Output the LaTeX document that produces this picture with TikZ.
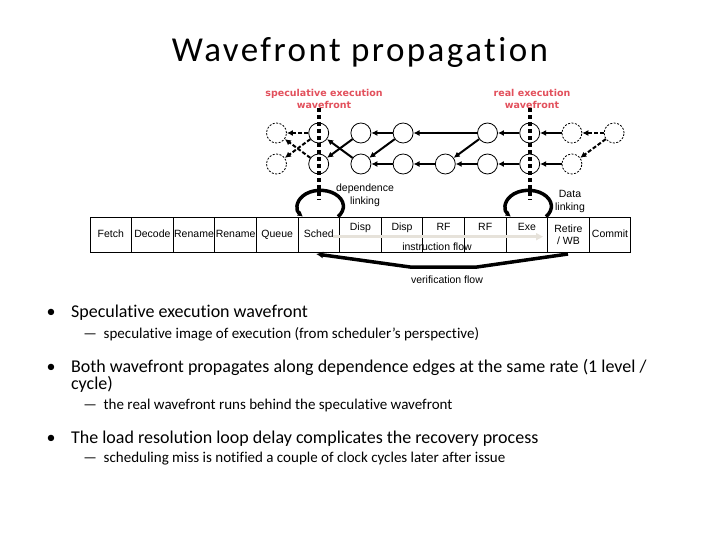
\documentclass[tikz,border=0pt]{standalone}
\usepackage{fontspec}
\setmainfont{Carlito}[Ligatures=NoCommon]
\newfontfamily\titlefont{Carlito}[LetterSpace=7,Ligatures=NoCommon]
\newfontfamily\diagfont{Liberation Sans}
\newfontfamily\wavefont{DejaVu Sans}
\usetikzlibrary{arrows.meta}

\definecolor{wavered}{RGB}{226,80,92}
\definecolor{flowgray}{RGB}{230,226,218}

\tikzset{
    inst/.style={circle,draw,minimum size=20pt,inner sep=0pt,line width=0.8pt},
    ghost/.style={inst,dash pattern=on 2pt off 1.5pt},
    dep/.style={line width=2pt,-{Latex[length=6pt,width=6pt]}},
    stage/.style={draw,line width=0.8pt,minimum width=41.6pt,minimum height=35pt,inner sep=0pt,
        font=\diagfont\fontsize{10.5}{12}\selectfont,text height=7.5pt,text depth=2pt},
    upstage/.style={stage,text depth=15pt},
    wave/.style={line width=4pt,dash pattern=on 4pt off 3pt},
    linking/.style={line width=3.5pt,-{Latex[length=5pt,width=6pt]}},
    small/.style={font=\diagfont\fontsize{10.5}{13.4}\selectfont,align=center,inner sep=0pt},
    wavelabel/.style={font=\wavefont\bfseries\fontsize{9.5}{12.3}\selectfont,text=wavered,align=center,inner sep=0pt},
    item/.style={font=\fontsize{18}{21}\selectfont,anchor=base west,inner sep=0pt},
    subitem/.style={font=\fontsize{15}{17}\selectfont,anchor=base west,inner sep=0pt}
}

\begin{document}
\begin{tikzpicture}[x=1pt,y=-1pt,thick]
    \useasboundingbox (0,0) rectangle (720,540);
    %
    \node[font=\titlefont\fontsize{35}{42}\selectfont,anchor=base] (title) at (360,61.7) {Wavefront propagation};
    %
    \node[wavelabel] (speclab) at (324,99) {speculative execution\\wavefront};
    \node[wavelabel] (reallab) at (532,99) {real execution\\wavefront};
    %
    \node[ghost] (T0) at (276.5,133) {};
    \node[inst]  (T1) at (318.7,133) {};
    \node[inst]  (T2) at (360.9,133) {};
    \node[inst]  (T3) at (403.1,133) {};
    \node[inst]  (T5) at (487.5,133) {};
    \node[inst]  (T6) at (529.7,133) {};
    \node[ghost] (T7) at (571.9,133) {};
    \node[ghost] (T8) at (614.1,133) {};
    \node[ghost] (B0) at (276.5,164) {};
    \node[inst]  (B1) at (318.7,164) {};
    \node[inst]  (B2) at (360.9,164) {};
    \node[inst]  (B3) at (403.1,164) {};
    \node[inst]  (B4) at (445.3,164) {};
    \node[inst]  (B5) at (487.5,164) {};
    \node[inst]  (B6) at (529.7,164) {};
    \node[ghost] (B7) at (571.9,164) {};
    %
    \begin{scope}[dep,dash pattern=on 4pt off 2pt]
        \draw (T1) -- (T0);
        \draw (T1) -- (B0);
        \draw (B1) -- (T0);
        \draw (T8) -- (T7);
        \draw (T8) -- (B7);
    \end{scope}
    %
    \draw[dep] (T2) -- (B1);
    \draw[dep] (B2) -- (T1);
    \draw[dep] (T3) -- (T2);
    \draw[dep] (T3) -- (B2);
    \draw[dep] (T5) -- (T3);
    \draw[dep] (B3) -- (B2);
    \draw[dep] (B4) -- (B3);
    \draw[dep] (T5) -- (B4);
    \draw[dep] (B5) -- (B4);
    \draw[dep] (T6) -- (T5);
    \draw[dep] (B6) -- (B5);
    \draw[dep] (T7) -- (T6);
    \draw[dep] (B7) -- (B6);
    %
    \coordinate (W1a) at (318.7,108);
    \coordinate (W1b) at (318.7,200);
    \coordinate (W2a) at (529.7,108);
    \coordinate (W2b) at (529.7,200);
    \draw[wave] (W1a) -- (W1b);
    \draw[wave] (W2a) -- (W2b);
    %
    \node[stage]   (P1)  at (110.8,234.5) {Fetch};
    \node[stage]   (P2)  at (152.4,234.5) {Decode};
    \node[stage]   (P3)  at (194.0,234.5) {Rename};
    \node[stage]   (P4)  at (235.6,234.5) {Rename};
    \node[stage]   (P5)  at (277.2,234.5) {Queue};
    \node[stage]   (P6)  at (318.8,234.5) {Sched};
    \node[upstage] (P7)  at (360.4,234.5) {Disp};
    \node[upstage] (P8)  at (402.0,234.5) {Disp};
    \node[upstage] (P9)  at (443.6,234.5) {RF};
    \node[upstage] (P10) at (485.2,234.5) {RF};
    \node[upstage] (P11) at (526.8,234.5) {Exe};
    \node[stage,align=center,text height=,text depth=] (P12) at (568.4,234.5) {Retire\\/ WB};
    \node[stage]   (P13) at (610.0,234.5) {Commit};
    %
    \draw[linking] ([xshift=-2pt]P6.north east) arc[start angle=-40,end angle=220,x radius=23pt,y radius=16pt];
    \draw[linking] ([xshift=-2pt]P11.north east) arc[start angle=-40,end angle=220,x radius=23pt,y radius=16pt];
    \node[small] (deplab) at (365,195) {dependence\\linking};
    \node[small] (datalab) at (570,201.5) {Data\\linking};
    %
    \coordinate (IF1) at (333,236.7);
    \coordinate (IF2) at (543,236.7);
    \draw[flowgray,line width=3pt,-{Triangle[length=7pt,width=7pt]}] (IF1) -- (IF2);
    \node[small] (iflab) at (437,247) {instruction flow};
    %
    \coordinate (V1) at (568,254);
    \coordinate (V2) at (477,267);
    \coordinate (V3) at (410,267);
    \coordinate (V4) at (316,254);
    \draw[line width=3.5pt,-{Latex[length=7pt,width=7pt]}] (V1) -- (V2) -- (V3) -- (V4);
    \node[small] (vflab) at (447,279.5) {verification flow};
    %
    \node[item,anchor=base] (d1) at (51,317) {•};
    \node[item] (b1) at (70.7,317) {Speculative execution wavefront};
    \node[subitem] (e1) at (83,338) {—};
    \node[subitem] (s1) at (103.3,338) {speculative image of execution (from scheduler’s perspective)};
    %
    \node[item,anchor=base] (d2) at (51,372) {•};
    \node[item] (b2) at (70.7,372) {Both wavefront propagates along dependence edges at the same rate (1 level /};
    \node[item] (b2b) at (70.7,389) {cycle)};
    \node[subitem] (e2) at (83,409) {—};
    \node[subitem] (s2) at (103.3,409) {the real wavefront runs behind the speculative wavefront};
    %
    \node[item,anchor=base] (d3) at (51,443) {•};
    \node[item] (b3) at (70.7,443) {The load resolution loop delay complicates the recovery process};
    \node[subitem] (e3) at (83,462) {—};
    \node[subitem] (s3) at (103.3,462) {scheduling miss is notified a couple of clock cycles later after issue};
    %
\end{tikzpicture}
\end{document}
